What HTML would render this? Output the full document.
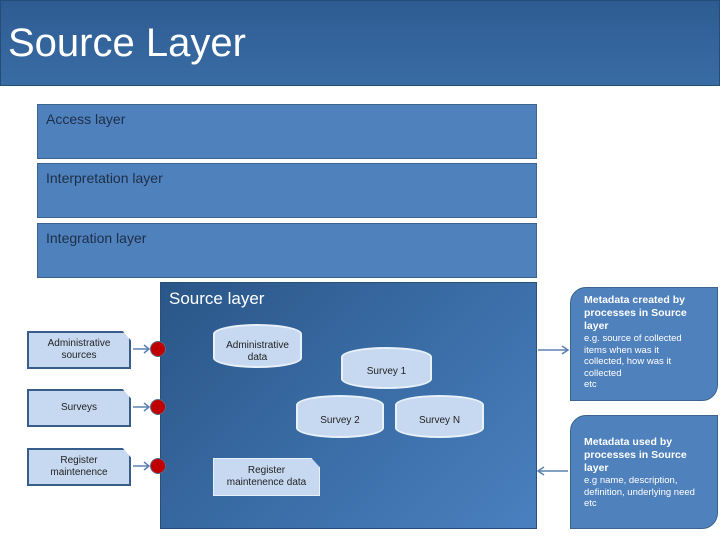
<!DOCTYPE html>
<html><head><style>
body{margin:0;width:720px;height:540px;background:#fff;position:relative;overflow:hidden;font-family:"Liberation Sans",sans-serif}
div{box-sizing:border-box;position:absolute}
.hdr{left:0;top:0;width:720px;height:86px;background:linear-gradient(#2d5c92,#3a6ca4);border:1px solid #244d7c}
.hdr span{position:absolute;left:7px;top:20px;color:#fff;font-size:40px}
.lay{left:37px;width:500px;height:55px;background:#4f81bd;border:1px solid #3b6590;color:#1d2f47;font-size:14px;padding:6px 8px}
.src{left:160px;top:282px;width:377px;height:247px;background:linear-gradient(135deg,#2a5688,#3d70aa 60%,#4a80c0);border:1px solid #2a4f7a}
.src span{position:absolute;left:8px;top:6px;color:#fff;font-size:17px}
.note{width:104px;height:38px;background:#c6d9f1;border:2px solid #385d8a;font-size:10px;color:#222;text-align:center;display:flex;align-items:center;justify-content:center;line-height:12px;clip-path:polygon(0 0,92% 0,100% 25%,100% 100%,0 100%)}
.dot{width:16px;height:16px;border-radius:50%;background:#c00000;border:1.5px solid #5a6a8a}
.cyl{background:#c6d9f1;border:2px solid #e8f0fa;border-radius:50%/10px;font-size:10px;color:#222;text-align:center;line-height:12px;padding-top:14px}
.rb{left:570px;width:148px;height:114px;background:#4f81bd;border:1px solid #3b6590;border-radius:16px 0 16px 0;color:#fff;font-size:10px;padding:6px 22px 6px 13px;line-height:13px}
.rb b{font-size:10.5px}
.rb small{font-size:9.5px;line-height:11.5px;display:block}
</style></head><body>
<div class="hdr"><span>Source Layer</span></div>
<div class="lay" style="top:104px">Access layer</div>
<div class="lay" style="top:163px">Interpretation layer</div>
<div class="lay" style="top:223px">Integration layer</div>
<div class="src"><span>Source layer</span></div>
<div class="note" style="left:27px;top:331px">Administrative<br>sources</div>
<div class="note" style="left:27px;top:389px">Surveys</div>
<div class="note" style="left:27px;top:448px">Register<br>maintenence</div>
<div class="dot" style="left:150px;top:341px"></div>
<div class="dot" style="left:150px;top:399px"></div>
<div class="dot" style="left:150px;top:458px"></div>
<div class="cyl" style="left:213px;top:324px;width:89px;height:44px">Administrative<br>data</div>
<div class="cyl" style="left:341px;top:347px;width:91px;height:42px;padding-top:17px">Survey 1</div>
<div class="cyl" style="left:296px;top:395px;width:88px;height:43px;padding-top:18px">Survey 2</div>
<div class="cyl" style="left:395px;top:395px;width:89px;height:43px;padding-top:18px">Survey N</div>
<div class="note" style="left:213px;top:458px;width:107px;height:38px;border:1px solid #e8f0fa">Register<br>maintenence data</div>
<svg width="720" height="540" style="position:absolute;left:0;top:0">
<g stroke="#5a82b0" stroke-width="1.5" fill="none">
<path d="M133 349H149M144 345L149 349L144 353"/>
<path d="M133 407H149M144 403L149 407L144 411"/>
<path d="M133 466H149M144 462L149 466L144 470"/>
<path d="M538 350H568M562 346L568 350L562 354"/>
<path d="M568 471H538M544 467L538 471L544 475"/>
</g></svg>
<div class="rb" style="top:287px"><b>Metadata created by processes in Source layer</b><small>e.g. source of collected items when was it collected, how was it collected<br>etc</small></div>
<div class="rb" style="top:415px;padding-top:20px"><b>Metadata used by processes in Source layer</b><small>e.g name, description, definition, underlying need etc</small></div>
</body></html>
